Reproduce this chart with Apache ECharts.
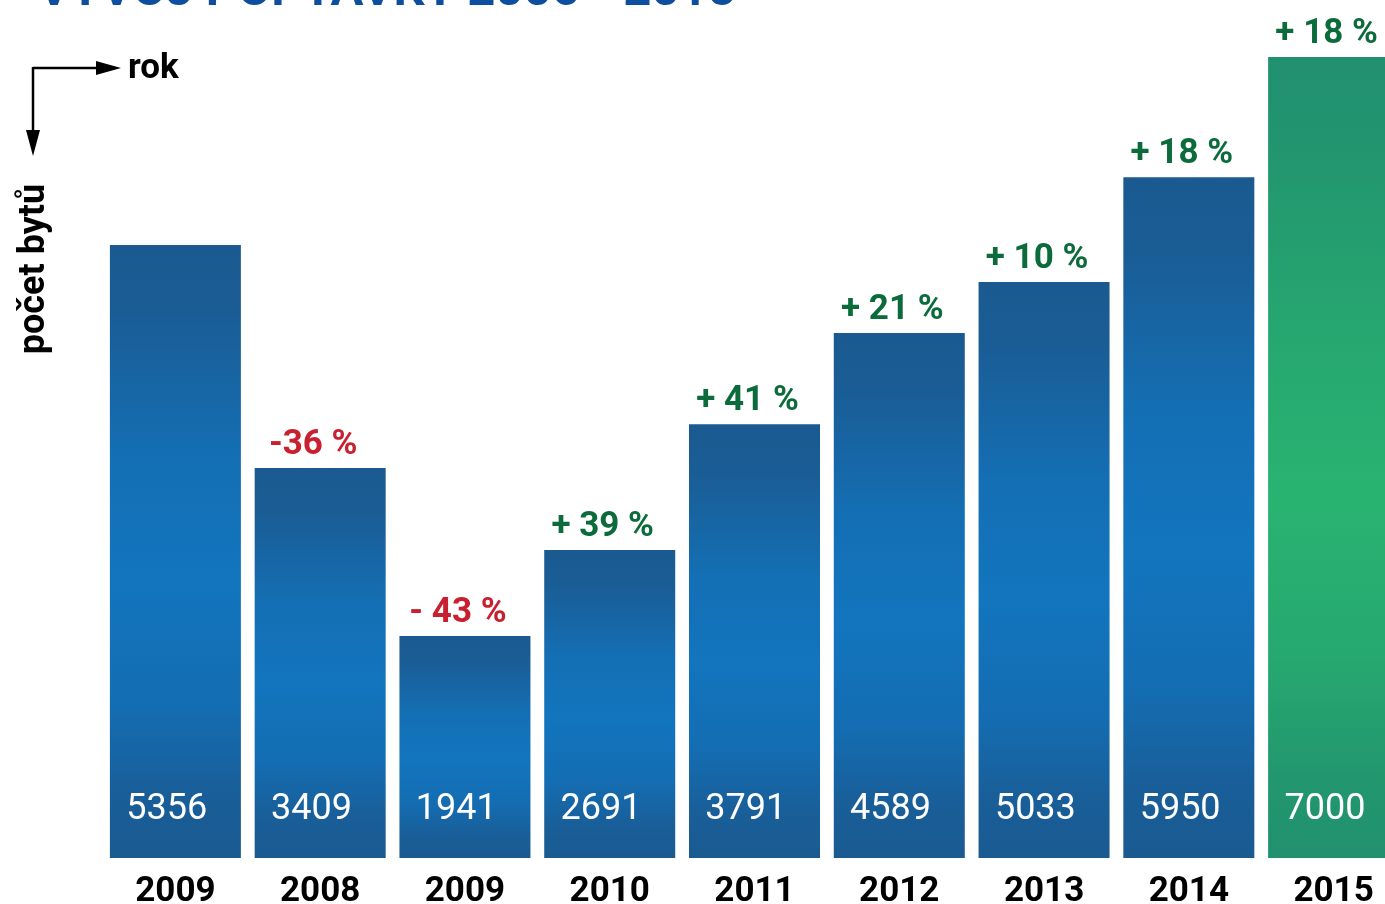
<!DOCTYPE html>
<html>
<head>
<meta charset="utf-8">
<script src="https://cdn.jsdelivr.net/npm/echarts@6/dist/echarts.min.js"></script>
<style>
html,body{margin:0;padding:0;background:#fff;}
#chart{width:1385px;height:904px;}
</style>
</head>
<body>
<div id="chart"></div>
<script>
const titleText = 'VÝVOJ POPTÁVKY 2006 - 2015';
const categories = ['2009', '2008', '2009', '2010', '2011', '2012', '2013', '2014', '2015'];
const values = [5356, 3409, 1941, 2691, 3791, 4589, 5033, 5950, 7000];
const changes = ['', '-36 %', '- 43 %', '+ 39 %', '+ 41 %', '+ 21 %', '+ 10 %', '+ 18 %', '+ 18 %'];

const FONT = 'Roboto';
const blueGrad = new echarts.graphic.LinearGradient(0, 0, 0, 1, [
  {offset: 0, color: '#1a5a91'},
  {offset: 0.1, color: '#1a5c94'},
  {offset: 0.35, color: '#146fb4'},
  {offset: 0.55, color: '#1275be'},
  {offset: 0.75, color: '#146db2'},
  {offset: 0.9, color: '#195e98'},
  {offset: 1, color: '#1a5a91'}
]);
const greenGrad = new echarts.graphic.LinearGradient(0, 0, 0, 1, [
  {offset: 0, color: '#21906f'},
  {offset: 0.1, color: '#22946f'},
  {offset: 0.35, color: '#26a770'},
  {offset: 0.55, color: '#29b371'},
  {offset: 0.75, color: '#26a870'},
  {offset: 0.9, color: '#22976f'},
  {offset: 1, color: '#21906e'}
]);

const chart = echarts.init(document.getElementById('chart'));
const lastIdx = values.length - 1;
chart.setOption({
  animation: false,
  backgroundColor: '#ffffff',
  grid: {left: 103, top: 57, width: 1303, height: 801, containLabel: false, outerBoundsMode: 'none'},
  xAxis: {
    type: 'category',
    data: categories,
    axisLine: {show: false},
    axisTick: {show: false},
    axisLabel: {
      color: '#000', fontFamily: FONT, fontWeight: 'bold', fontSize: 35, margin: 17
    }
  },
  yAxis: {type: 'value', min: 0, max: 7000, show: false, splitLine: {show: false}},
  series: [
    {
      type: 'bar',
      barWidth: 131,
      barGap: '-100%',
      data: values.map((v, i) => ({
        value: v,
        itemStyle: {color: i === lastIdx ? greenGrad : blueGrad}
      })),
      label: {
        show: true,
        position: ['14%', '100%'],
        offset: [-2, -48],
        align: 'left',
        verticalAlign: 'middle',
        color: '#ffffff',
        fontFamily: FONT,
        fontSize: 36,
        formatter: p => String(p.value)
      }
    },
    {
      type: 'bar',
      barWidth: 131,
      barGap: '-100%',
      silent: true,
      data: values,
      itemStyle: {color: 'rgba(0,0,0,0)'},
      label: {
        show: true,
        position: 'top',
        distance: 5,
        offset: [-7, 0],
        formatter: p => {
          const t = changes[p.dataIndex];
          if (!t) return '';
          return (t.trim().startsWith('-') ? '{r|' : '{g|') + t + '}';
        },
        rich: {
          r: {color: '#c8202f', fontFamily: FONT, fontWeight: 'bold', fontSize: 35},
          g: {color: '#0b6b3b', fontFamily: FONT, fontWeight: 'bold', fontSize: 35}
        }
      }
    }
  ],
  graphic: [
    {type: 'text', left: 38, top: -32, style: {text: titleText, fill: '#0d4f9e', font: 'bold 49px Roboto'}},
    {type: 'line', shape: {x1: 33, y1: 68, x2: 100, y2: 68}, style: {stroke: '#000', lineWidth: 2.5}},
    {type: 'polygon', shape: {points: [[96, 61], [121, 68], [96, 75]]}, style: {fill: '#000'}},
    {type: 'line', shape: {x1: 33, y1: 67, x2: 33, y2: 135}, style: {stroke: '#000', lineWidth: 2.5}},
    {type: 'polygon', shape: {points: [[26, 130], [33, 156], [40, 130]]}, style: {fill: '#000'}},
    {type: 'text', x: 128, y: 69, style: {text: 'rok', fill: '#000', font: 'bold 35px Roboto', textVerticalAlign: 'middle', verticalAlign: 'middle'}},
    {type: 'text', x: 35, y: 269, rotation: Math.PI / 2, style: {text: 'počet bytů', fill: '#000', font: 'bold 36px Roboto', align: 'center', verticalAlign: 'middle', textAlign: 'center', textVerticalAlign: 'middle'}}
  ]
});
</script>
</body>
</html>
